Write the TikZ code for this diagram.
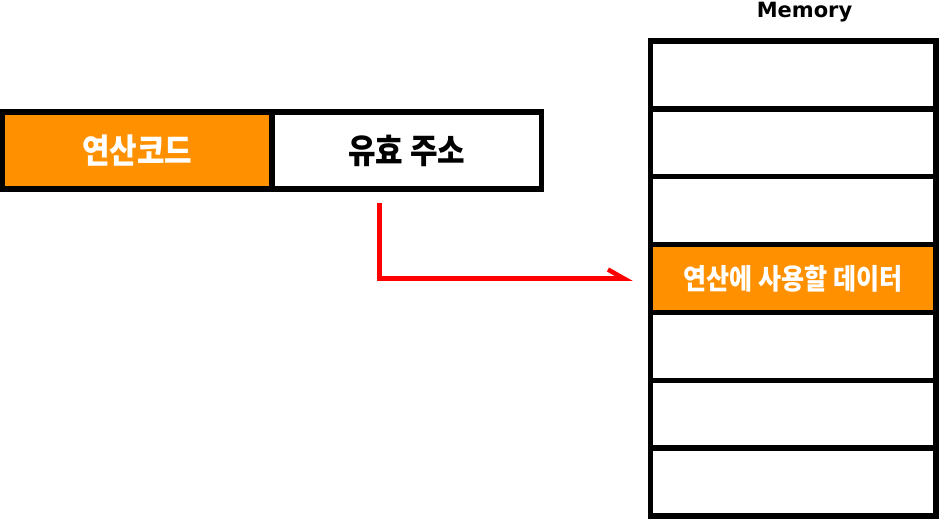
\documentclass[tikz,border=0pt]{standalone}
\usepackage{fontspec}
\newfontfamily\kr{Noto Sans CJK KR}[FakeStretch=0.88]
\newfontfamily\lab{DejaVu Sans}
\usetikzlibrary{positioning,arrows.meta}
\definecolor{opfill}{RGB}{255,145,0}
\begin{document}
\begin{tikzpicture}[x=1pt,y=-1pt,
  field/.style={draw,line width=5.5pt,minimum width=269.5pt,minimum height=77pt,inner sep=0pt,outer sep=0pt,font=\kr\bfseries\fontsize{34}{34}\selectfont},
  cell/.style={draw,line width=5.5pt,minimum width=285.5pt,minimum height=67.86pt,inner sep=0pt,outer sep=0pt,font=\kr\bfseries\fontsize{28.5}{28.5}\selectfont},
  ptr/.style={red,line width=4.5pt,-{Straight Barb[left,length=16pt,width=18pt]}}]
  \useasboundingbox (0,0) rectangle (940,520);
  \node[field,fill=opfill,text=white] (opcode) at (137.25,150.5) {연산코드};
  \node[field,right=0pt of opcode] (addr) {유효 주소};
  \node[cell] (m1) at (793.25,74.93) {};
  \node[cell,below=0pt of m1] (m2) {};
  \node[cell,below=0pt of m2] (m3) {};
  \node[cell,below=0pt of m3,fill=opfill,text=white] (m4) {연산에 사용할 데이터};
  \node[cell,below=0pt of m4] (m5) {};
  \node[cell,below=0pt of m5] (m6) {};
  \node[cell,below=0pt of m6] (m7) {};
  \node[font=\lab\bfseries\fontsize{21}{21}\selectfont] (memlabel) at (804.5,12) {Memory};
  \coordinate (src) at (379.5,203);
  \draw[ptr,shorten >=18pt] (src) |- (m4.west);
\end{tikzpicture}
\end{document}
